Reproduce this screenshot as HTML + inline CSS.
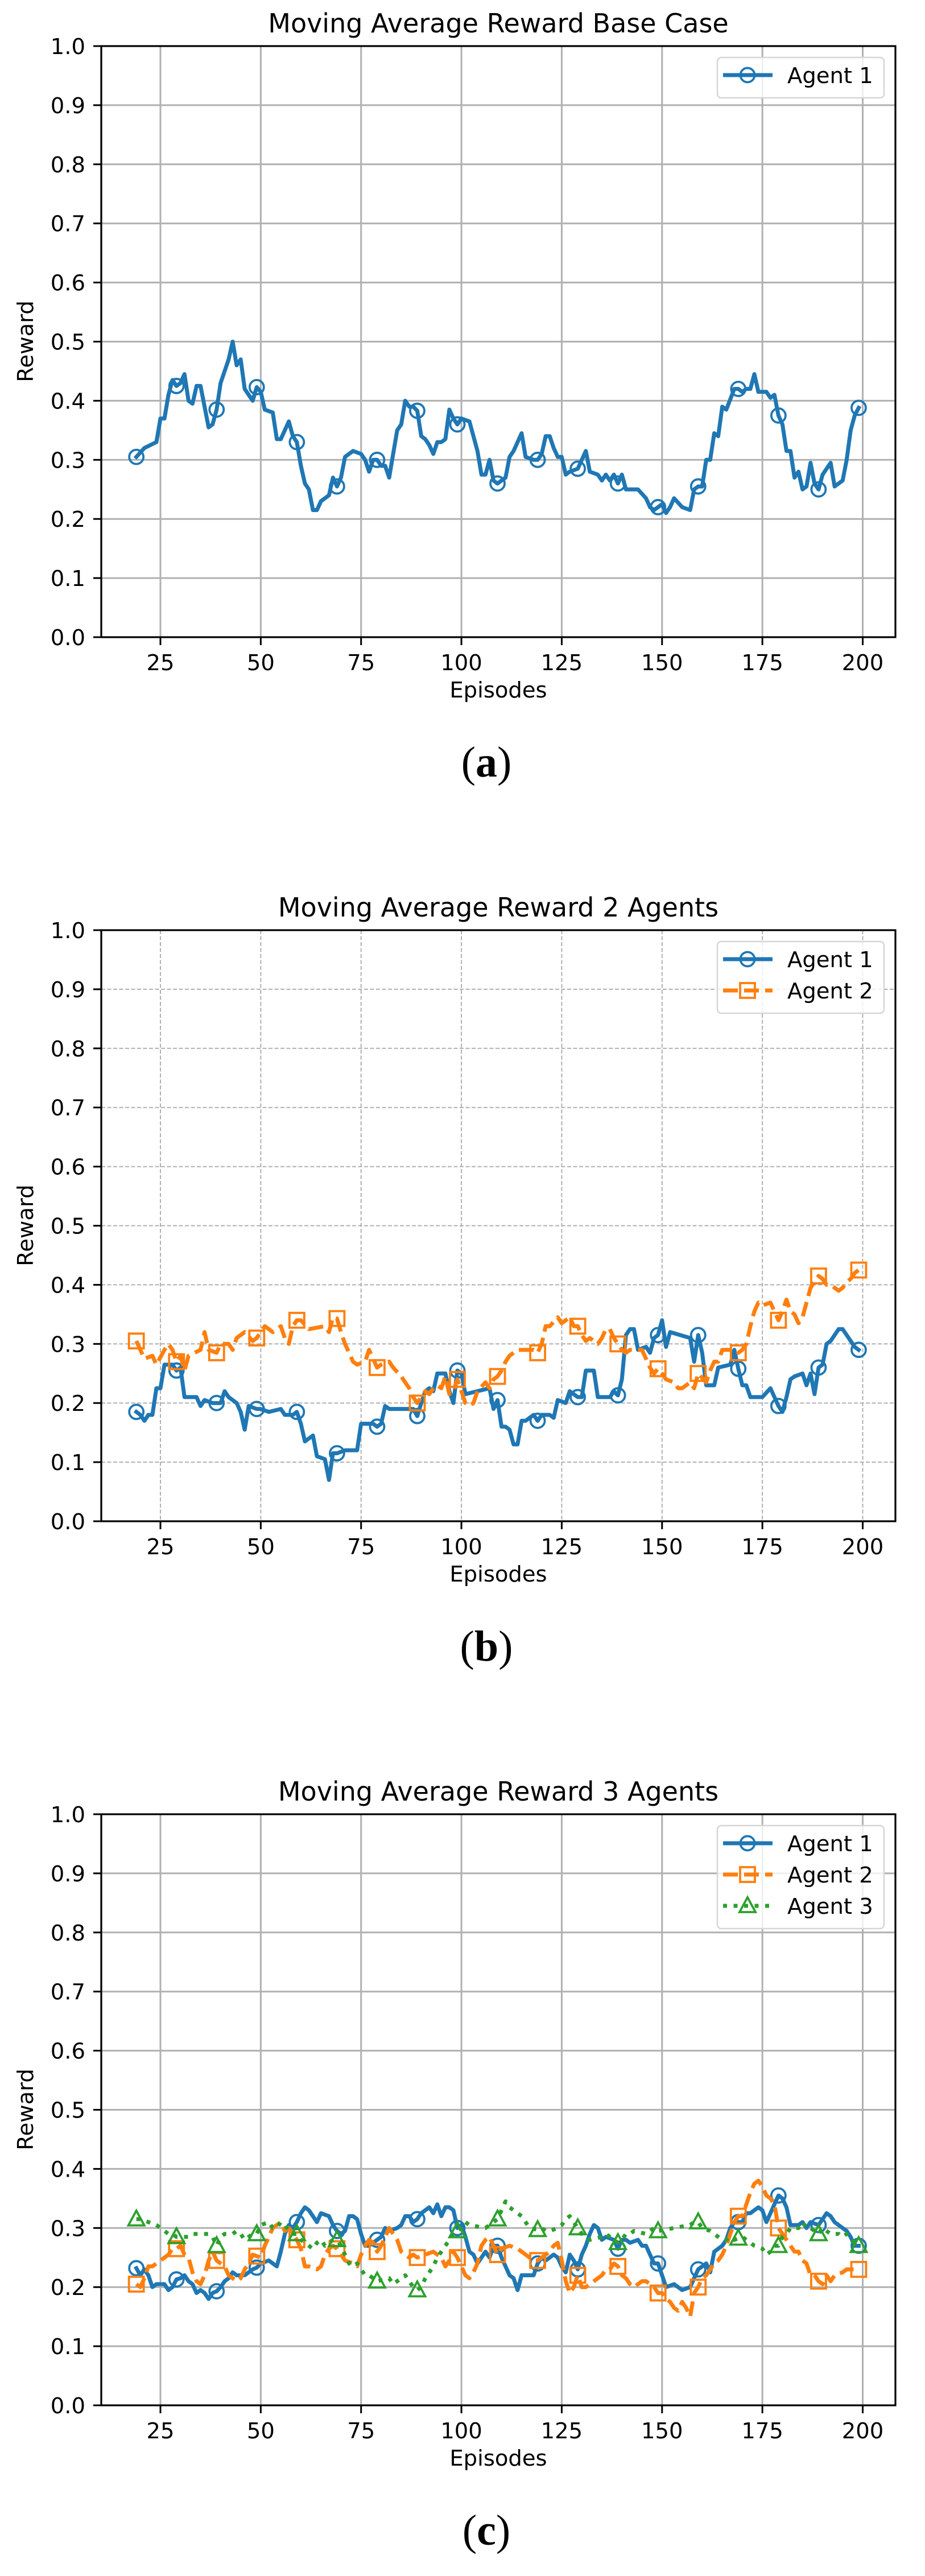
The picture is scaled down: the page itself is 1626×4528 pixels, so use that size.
<!DOCTYPE html>
<html>
<head>
<meta charset="utf-8">
<style>
html,body{margin:0;padding:0;background:#fff;}
svg{display:block;}
text{font-family:"DejaVu Sans","Liberation Sans",sans-serif;fill:#000;}
.cap{font-family:"Liberation Serif",serif;}
</style>
</head>
<body>
<svg id="fig" width="1626" height="4528" viewBox="0 0 1626 4528" xmlns="http://www.w3.org/2000/svg"></svg>
<script>
const xTicks = [25,50,75,100,125,150,175,200];
const yTicks = [0,0.1,0.2,0.3,0.4,0.5,0.6,0.7,0.8,0.9,1.0];
const chartTitles = ["Moving Average Reward Base Case","Moving Average Reward 2 Agents","Moving Average Reward 3 Agents"];
const captions = ["a","b","c"];
const agentNames = ["Agent 1","Agent 2","Agent 3"];

const baseA1 = [[19,.305],[21,.32],[24,.33],[25,.37],[26,.37],[27,.41],[28,.435],[29,.425],[30,.43],[31,.445],[32,.40],[33,.395],[34,.425],[35,.425],[37,.355],[38,.36],[39,.385],[40,.43],[42,.47],[43,.50],[44,.46],[45,.47],[46,.42],[48,.40],[49,.423],[50,.415],[51,.385],[53,.38],[54,.335],[55,.335],[57,.365],[58,.34],[59,.33],[60,.29],[61,.26],[62,.25],[63,.215],[64,.215],[65,.23],[67,.24],[68,.27],[69,.255],[70,.27],[71,.305],[73,.315],[75,.31],[76,.30],[77,.28],[78,.30],[79,.30],[80,.29],[81,.29],[82,.27],[83,.31],[84,.35],[85,.36],[86,.40],[87,.39],[88,.39],[89,.383],[90,.34],[91,.335],[92,.325],[93,.31],[94,.33],[95,.33],[96,.335],[97,.385],[98,.37],[99,.36],[100,.37],[102,.365],[103,.34],[104,.315],[105,.275],[106,.275],[107,.30],[108,.265],[109,.26],[111,.27],[112,.305],[113,.315],[115,.345],[116,.305],[118,.30],[119,.30],[120,.31],[121,.34],[122,.34],[123,.32],[124,.305],[125,.305],[126,.275],[127,.28],[129,.285],[130,.30],[131,.315],[132,.28],[134,.275],[135,.265],[136,.275],[137,.265],[138,.275],[139,.26],[140,.275],[141,.25],[142,.25],[144,.25],[146,.235],[147,.22],[148,.215],[149,.22],[150,.225],[151,.21],[152,.22],[153,.235],[155,.22],[157,.215],[158,.25],[159,.255],[160,.255],[161,.30],[162,.30],[163,.345],[164,.34],[165,.39],[166,.385],[168,.42],[169,.42],[170,.415],[171,.42],[172,.42],[173,.445],[174,.415],[176,.415],[177,.405],[178,.41],[179,.375],[180,.36],[181,.315],[182,.315],[183,.27],[184,.28],[185,.25],[186,.255],[187,.295],[188,.26],[189,.25],[190,.275],[191,.285],[192,.295],[193,.255],[195,.265],[196,.30],[197,.35],[198,.375],[199,.388]];

const two1 = [[19,.185],[20,.18],[21,.17],[22,.18],[23,.18],[24,.225],[25,.225],[26,.265],[28,.265],[29,.255],[30,.26],[31,.21],[34,.21],[35,.195],[36,.205],[38,.20],[39,.20],[40,.20],[41,.22],[42,.21],[44,.20],[45,.185],[46,.155],[47,.195],[49,.19],[50,.19],[52,.185],[55,.19],[56,.18],[58,.18],[59,.185],[60,.165],[61,.135],[62,.14],[63,.145],[64,.11],[66,.105],[67,.07],[68,.115],[69,.115],[71,.12],[74,.12],[75,.165],[78,.165],[79,.16],[80,.165],[81,.195],[82,.19],[88,.19],[89,.178],[90,.20],[91,.22],[92,.225],[93,.22],[94,.25],[96,.25],[97,.22],[98,.20],[99,.255],[100,.25],[101,.215],[104,.22],[107,.225],[108,.19],[109,.205],[110,.16],[111,.16],[112,.155],[113,.13],[114,.13],[115,.17],[116,.17],[117,.175],[118,.18],[119,.17],[120,.18],[122,.18],[123,.175],[124,.205],[126,.20],[127,.22],[129,.21],[130,.21],[131,.255],[133,.255],[134,.21],[137,.21],[138,.22],[139,.213],[140,.24],[141,.315],[142,.325],[143,.325],[144,.29],[146,.295],[147,.285],[148,.31],[149,.315],[150,.34],[151,.295],[152,.32],[157,.31],[158,.27],[159,.315],[160,.285],[161,.23],[163,.23],[164,.26],[167,.265],[168,.29],[169,.258],[170,.23],[171,.23],[172,.21],[175,.21],[177,.225],[179,.195],[180,.185],[181,.21],[182,.24],[183,.245],[185,.25],[186,.23],[187,.25],[188,.215],[189,.26],[190,.265],[191,.30],[192,.305],[194,.325],[195,.325],[196,.315],[198,.295],[199,.29]];
const two2 = [[19,.305],[20,.29],[21,.275],[23,.28],[24,.265],[26,.29],[27,.30],[28,.29],[29,.27],[30,.28],[31,.255],[32,.28],[35,.29],[36,.32],[37,.29],[39,.285],[40,.30],[42,.30],[43,.29],[44,.31],[46,.32],[48,.305],[49,.31],[51,.33],[53,.32],[55,.33],[56,.31],[57,.30],[58,.33],[59,.34],[60,.34],[62,.325],[66,.33],[67,.32],[68,.345],[69,.343],[70,.32],[71,.30],[72,.285],[73,.27],[74,.265],[76,.27],[77,.29],[78,.275],[79,.26],[80,.265],[82,.27],[83,.26],[85,.245],[86,.235],[87,.225],[88,.21],[89,.20],[90,.21],[91,.22],[92,.215],[93,.225],[94,.23],[95,.225],[96,.245],[97,.215],[98,.22],[99,.24],[100,.22],[101,.20],[102,.195],[103,.20],[104,.22],[106,.235],[107,.225],[108,.24],[109,.245],[110,.255],[111,.27],[112,.28],[114,.29],[118,.29],[119,.285],[120,.30],[121,.33],[122,.33],[124,.345],[125,.335],[127,.345],[128,.33],[129,.33],[130,.315],[131,.305],[132,.31],[134,.30],[135,.31],[136,.325],[137,.325],[138,.31],[139,.30],[140,.29],[141,.285],[142,.29],[145,.29],[146,.275],[147,.26],[148,.25],[149,.258],[150,.25],[151,.24],[153,.235],[154,.225],[155,.225],[157,.235],[158,.225],[159,.25],[161,.235],[162,.255],[163,.27],[164,.27],[165,.29],[168,.29],[169,.285],[170,.29],[171,.30],[172,.33],[173,.355],[174,.37],[175,.365],[177,.37],[178,.355],[179,.34],[180,.355],[181,.375],[182,.355],[183,.35],[184,.335],[185,.345],[186,.37],[187,.395],[188,.405],[189,.415],[190,.41],[191,.40],[192,.40],[194,.39],[195,.395],[196,.405],[197,.41],[198,.42],[199,.425]];

const three1 = [[19,.232],[20,.22],[21,.23],[22,.22],[23,.20],[24,.205],[26,.205],[27,.195],[28,.20],[29,.213],[30,.215],[31,.22],[32,.21],[33,.205],[34,.19],[35,.195],[36,.19],[37,.18],[38,.19],[39,.193],[40,.20],[41,.21],[42,.215],[43,.225],[44,.22],[46,.22],[47,.225],[48,.23],[49,.233],[50,.24],[52,.245],[53,.24],[54,.235],[55,.26],[56,.29],[57,.305],[58,.30],[59,.31],[60,.325],[61,.335],[62,.33],[63,.32],[64,.31],[65,.325],[67,.32],[68,.305],[69,.295],[70,.29],[71,.295],[72,.32],[73,.32],[74,.315],[75,.29],[76,.27],[77,.27],[78,.275],[79,.28],[80,.285],[81,.30],[82,.295],[84,.30],[85,.305],[86,.32],[87,.32],[88,.31],[89,.315],[90,.325],[91,.33],[92,.335],[93,.325],[94,.34],[95,.32],[96,.335],[97,.335],[98,.33],[99,.30],[100,.305],[101,.285],[102,.26],[103,.255],[104,.24],[105,.25],[106,.26],[107,.25],[108,.27],[109,.27],[110,.25],[111,.235],[112,.22],[113,.215],[114,.195],[115,.22],[118,.22],[119,.24],[120,.25],[121,.245],[123,.255],[124,.25],[125,.235],[126,.225],[127,.255],[128,.245],[129,.23],[130,.255],[131,.27],[132,.29],[133,.305],[134,.30],[135,.28],[136,.285],[138,.28],[139,.265],[140,.28],[141,.28],[142,.275],[144,.28],[145,.27],[146,.27],[147,.255],[148,.24],[149,.24],[150,.22],[151,.20],[153,.205],[154,.20],[155,.195],[157,.20],[158,.215],[159,.23],[161,.24],[162,.225],[163,.26],[165,.27],[166,.28],[167,.30],[168,.31],[170,.31],[171,.325],[172,.325],[173,.33],[174,.335],[175,.33],[176,.31],[177,.325],[178,.34],[179,.355],[180,.35],[181,.335],[182,.305],[184,.305],[185,.31],[186,.30],[187,.31],[189,.305],[190,.315],[191,.325],[192,.32],[193,.31],[195,.30],[196,.295],[197,.285],[198,.27],[199,.27]];
const three2 = [[19,.205],[20,.20],[21,.215],[22,.235],[23,.235],[24,.24],[26,.25],[27,.255],[28,.265],[29,.265],[30,.27],[31,.255],[32,.25],[33,.225],[34,.21],[35,.205],[36,.22],[37,.245],[38,.26],[39,.245],[40,.24],[41,.235],[42,.22],[43,.215],[44,.21],[45,.215],[46,.23],[47,.24],[48,.255],[50,.25],[51,.27],[52,.285],[53,.30],[55,.31],[56,.295],[57,.30],[58,.29],[59,.28],[60,.265],[61,.235],[62,.235],[64,.23],[65,.235],[66,.255],[67,.265],[68,.27],[69,.265],[70,.255],[71,.245],[73,.24],[74,.235],[75,.255],[76,.27],[77,.28],[78,.275],[79,.26],[80,.27],[81,.285],[82,.30],[83,.29],[84,.28],[85,.26],[87,.25],[88,.255],[89,.25],[91,.255],[93,.26],[94,.255],[95,.25],[96,.235],[97,.245],[98,.26],[99,.25],[100,.235],[101,.22],[102,.215],[103,.225],[104,.24],[105,.27],[106,.28],[107,.285],[108,.27],[109,.255],[110,.265],[112,.27],[114,.265],[116,.255],[118,.245],[119,.245],[120,.25],[122,.26],[123,.27],[124,.275],[125,.245],[126,.21],[127,.19],[128,.20],[129,.22],[130,.20],[131,.20],[133,.21],[135,.22],[136,.23],[137,.23],[138,.24],[139,.235],[140,.22],[141,.215],[142,.205],[143,.20],[145,.21],[146,.21],[148,.20],[149,.19],[150,.19],[151,.18],[152,.175],[153,.165],[154,.16],[155,.175],[156,.165],[157,.15],[158,.19],[159,.20],[160,.215],[161,.22],[162,.23],[163,.24],[164,.245],[165,.255],[166,.27],[167,.29],[168,.31],[169,.32],[170,.32],[171,.34],[172,.36],[173,.375],[174,.38],[175,.37],[176,.355],[177,.35],[178,.34],[179,.30],[180,.29],[181,.28],[182,.27],[183,.26],[184,.26],[185,.245],[186,.24],[187,.22],[188,.22],[189,.21],[190,.205],[191,.22],[192,.21],[193,.22],[195,.225],[196,.23],[199,.23]];
const three3 = [[19,.315],[20,.315],[22,.31],[24,.305],[25,.30],[26,.295],[27,.29],[28,.29],[29,.285],[32,.285],[33,.29],[37,.29],[38,.285],[39,.27],[40,.285],[41,.29],[43,.29],[44,.295],[45,.29],[46,.28],[47,.285],[48,.29],[49,.29],[50,.305],[52,.31],[53,.30],[54,.30],[55,.31],[56,.305],[57,.295],[58,.29],[59,.29],[60,.28],[61,.275],[62,.27],[63,.265],[64,.275],[65,.28],[66,.27],[67,.275],[68,.28],[69,.28],[70,.27],[71,.255],[72,.24],[73,.235],[74,.24],[75,.23],[76,.22],[77,.22],[78,.215],[79,.21],[82,.215],[83,.205],[84,.21],[85,.215],[86,.22],[87,.21],[88,.20],[89,.195],[90,.20],[91,.215],[92,.225],[93,.235],[94,.25],[95,.26],[96,.27],[97,.28],[98,.29],[99,.295],[100,.30],[101,.31],[102,.305],[106,.30],[107,.305],[108,.31],[109,.315],[110,.33],[111,.345],[112,.335],[113,.33],[115,.32],[116,.31],[117,.30],[119,.297],[120,.30],[121,.295],[122,.295],[124,.30],[125,.305],[126,.315],[127,.32],[128,.31],[129,.30],[130,.29],[131,.285],[132,.28],[135,.285],[136,.29],[137,.285],[138,.28],[139,.275],[140,.28],[141,.29],[142,.29],[143,.295],[146,.29],[147,.295],[148,.30],[149,.295],[153,.30],[157,.305],[158,.31],[159,.31],[160,.30],[162,.295],[163,.29],[164,.285],[165,.28],[166,.28],[167,.285],[168,.28],[170,.285],[171,.28],[172,.275],[173,.27],[175,.265],[176,.255],[177,.26],[178,.27],[179,.27],[180,.285],[181,.29],[182,.30],[184,.30],[185,.31],[186,.30],[187,.30],[188,.295],[189,.29],[190,.30],[191,.295],[192,.29],[194,.29],[195,.285],[196,.29],[197,.28],[198,.275],[199,.27]];

const chartSeries = [[baseA1],[two1,two2],[three1,three2,three3]];
const markerEpisodes = [19,29,39,49,59,69,79,89,99,109,119,129,139,149,159,169,179,189,199];

const NS = "http://www.w3.org/2000/svg";
const svg = document.getElementById("fig");
const COLORS = ["#1f77b4","#ff7f0e","#2ca02c"];
const DASH = ["", "26 11", "7 11.5"];
const LW = 7;
const AX = {left:178, right:1574, top:81, bottom:1120};
const CHART_STEP = 1554;
function xScale(ep){ return 282 + (ep - 25) * (1234.5 / 175); }
function yScale(v, off){ return off + AX.bottom - v * (AX.bottom - AX.top); }
function mk(tag, attrs, parent){
  const e = document.createElementNS(NS, tag);
  for (const k in attrs) e.setAttribute(k, attrs[k]);
  (parent || svg).appendChild(e);
  return e;
}
function valueAt(series, ep){
  for (let i = 0; i < series.length - 1; i++){
    const a = series[i], b = series[i+1];
    if (ep >= a[0] && ep <= b[0]) return a[1] + (b[1]-a[1]) * (ep - a[0]) / (b[0] - a[0]);
  }
  return series[series.length-1][1];
}
function drawMarker(g, kind, cx, cy, color){
  let m;
  if (kind === 0){
    m = mk("circle", {cx:cx, cy:cy, r:12.5, fill:"none", stroke:color, "stroke-width":3.8}, g);
  } else if (kind === 1){
    m = mk("rect", {x:cx-13, y:cy-13, width:26, height:26, fill:"none", stroke:color, "stroke-width":3.8}, g);
  } else {
    m = mk("polygon", {points:(cx)+","+(cy-15)+" "+(cx-14)+","+(cy+11)+" "+(cx+14)+","+(cy+11), fill:"none", stroke:color, "stroke-width":3.8}, g);
  }
  return m;
}

for (let c = 0; c < 3; c++){
  const off = c * CHART_STEP;
  const g = mk("g", {});
  
  

  const t = mk("text", {x:876, y:off+57, "font-size":46, "text-anchor":"middle"}, g);
  t.textContent = chartTitles[c];
  
  

  const grid = mk("g", {stroke: "#b0b0b0", "stroke-width": c === 1 ? 2 : 3, "stroke-dasharray": c === 1 ? "7 3.5" : ""}, g);
  
  
  xTicks.forEach(v => { mk("line", {x1:xScale(v), x2:xScale(v), y1:off+AX.top, y2:off+AX.bottom}, grid); });
  yTicks.forEach(v => { mk("line", {x1:AX.left, x2:AX.right, y1:yScale(v,off), y2:yScale(v,off)}, grid); });

  const xa = mk("g", {}, g);
  
  
  xTicks.forEach(v => {
    mk("line", {x1:xScale(v), x2:xScale(v), y1:off+AX.bottom, y2:off+AX.bottom+14, stroke:"#000", "stroke-width":3}, xa);
    const tl = mk("text", {x:xScale(v), y:off+1178, "font-size":38.5, "text-anchor":"middle"}, xa);
    tl.textContent = String(v);
    
    
  });
  const xl = mk("text", {x:876, y:off+1226, "font-size":38.5, "text-anchor":"middle"}, xa);
  xl.textContent = "Episodes";
  
  

  const ya = mk("g", {}, g);
  
  
  yTicks.forEach(v => {
    mk("line", {x1:AX.left-14, x2:AX.left, y1:yScale(v,off), y2:yScale(v,off), stroke:"#000", "stroke-width":3}, ya);
    const tl = mk("text", {x:150, y:yScale(v,off)+14, "font-size":38.5, "text-anchor":"end"}, ya);
    tl.textContent = v.toFixed(1);
    
    
  });
  const yl = mk("text", {x:0, y:0, "font-size":38.5, "text-anchor":"middle", transform:"translate(58,"+(off+600)+") rotate(-90)"}, ya);
  yl.textContent = "Reward";
  
  

  const series = chartSeries[c];
  const clipId = "clip" + c;
  const cp = mk("clipPath", {id:clipId}, g);
  mk("rect", {x:AX.left, y:off+AX.top, width:AX.right-AX.left, height:AX.bottom-AX.top}, cp);
  series.forEach((s, k) => {
    const sg = mk("g", {"clip-path":"url(#"+clipId+")"}, g);
    
    
    const d = s.map((p, i) => (i ? "L" : "M") + xScale(p[0]).toFixed(1) + " " + yScale(p[1], off).toFixed(1)).join(" ");
    const ln = mk("path", {d:d, fill:"none", stroke:COLORS[k], "stroke-width":LW, "stroke-linejoin":"round", "stroke-linecap": k === 0 ? "square" : "butt", "stroke-dasharray":DASH[k]}, sg);
    
    
    markerEpisodes.forEach(ep => {
      const m = drawMarker(sg, k, xScale(ep), yScale(valueAt(s, ep), off), COLORS[k]);
      
      
    });
  });

  const frame = mk("rect", {x:AX.left, y:off+AX.top, width:AX.right-AX.left, height:AX.bottom-AX.top, fill:"none", stroke:"#000", "stroke-width":3.2}, g);
  
  

  const n = series.length;
  const lg = mk("g", {}, g);
  
  
  mk("rect", {x:1261, y:off+101, width:293, height:71 + (n-1)*55, rx:7, fill:"rgba(255,255,255,0.8)", stroke:"#d6d6d6", "stroke-width":2.5}, lg);
  for (let k = 0; k < n; k++){
    const ey = off + 132 + k*55;
    const en = mk("g", {}, lg);
    
    
    mk("line", {x1:1271, x2:1358, y1:ey, y2:ey, stroke:COLORS[k], "stroke-width":LW, "stroke-dasharray":DASH[k]}, en);
    drawMarker(en, k, 1314, ey, COLORS[k]);
    const lt = mk("text", {x:1384, y:ey+14, "font-size":38.5}, en);
    lt.textContent = agentNames[k];
  }

  const cap = mk("text", {x:855, y:off+1365, "font-size":76, "text-anchor":"middle", "class":"cap"}, g);
  cap.innerHTML = '(<tspan font-weight="bold">' + captions[c] + '</tspan>)';
  
  
}
</script>
</body>
</html>
